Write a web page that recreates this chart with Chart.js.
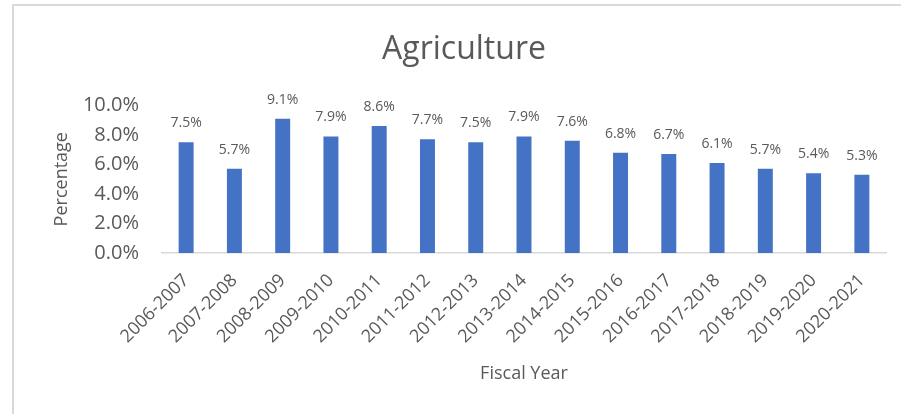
<!DOCTYPE html>
<html>
<head>
<meta charset="utf-8">
<script src="https://cdn.jsdelivr.net/npm/chart.js@4.4.1/dist/chart.umd.min.js"></script>
<style>
    html, body { margin: 0; padding: 0; background: #ffffff; }
    #wrap { position: relative; width: 901px; height: 414px; overflow: hidden; }
    #frame {
        position: absolute; left: 12px; top: 4px; width: 920px; height: 430px;
        border-left: 2px solid #d9d9d9; border-top: 2px solid #d9d9d9;
    }
    #agriChart { position: absolute; left: 0; top: 0; }
</style>
</head>
<body>
<div id="wrap">
    <div id="frame"></div>
    <canvas id="agriChart" width="901" height="414"></canvas>
</div>
<script>
var fiscalYears = [
    "2006-2007", "2007-2008", "2008-2009", "2009-2010", "2010-2011",
    "2011-2012", "2012-2013", "2013-2014", "2014-2015", "2015-2016",
    "2016-2017", "2017-2018", "2018-2019", "2019-2020", "2020-2021"
];
var agriShare = [7.5, 5.7, 9.1, 7.9, 8.6, 7.7, 7.5, 7.9, 7.6, 6.8, 6.7, 6.1, 5.7, 5.4, 5.3];
var yTicks = [0, 2, 4, 6, 8, 10];

var textColor = "#595959";
var fontName = "'Open Sans', sans-serif";

// writes the value above each bar
var barValueLabels = {
    id: "barValueLabels",
    afterDatasetsDraw: function (chart) {
        var ctx = chart.ctx;
        var meta = chart.getDatasetMeta(0);
        ctx.save();
        ctx.font = "14px " + fontName;
        ctx.fillStyle = textColor;
        ctx.textAlign = "center";
        ctx.textBaseline = "alphabetic";
        meta.data.forEach(function (bar, i) {
            var v = chart.data.datasets[0].data[i];
            ctx.fillText(v.toFixed(1) + "%", bar.x, bar.y - 15);
        });
        ctx.restore();
    }
};

function drawChart() {
    var ctx = document.getElementById("agriChart").getContext("2d");
    new Chart(ctx, {
        type: "bar",
        data: {
            labels: fiscalYears,
            datasets: [
                {
                    data: agriShare,
                    backgroundColor: "#4472c4",
                    borderWidth: 0,
                    categoryPercentage: 1.0,
                    barPercentage: 0.31,
                },
            ],
        },
        options: {
            responsive: false,
            animation: false,
            layout: {
                padding: { left: 42, right: 15, top: 0, bottom: 0 },
            },
            plugins: {
                legend: { display: false },
                tooltip: { enabled: false },
                title: {
                    display: true,
                    text: "Agriculture",
                    color: textColor,
                    font: { family: fontName, size: 32, weight: "normal" },
                    padding: { top: 31, bottom: 36 },
                },
            },
            scales: {
                x: {
                    grid: { display: false },
                    border: { display: true, color: "#d9d9d9", width: 1.5 },
                    ticks: {
                        color: textColor,
                        font: { family: fontName, size: 18 },
                        maxRotation: 45,
                        minRotation: 45,
                        padding: 9,
                    },
                    title: {
                        display: true,
                        text: "Fiscal Year",
                        color: textColor,
                        font: { family: fontName, size: 18 },
                        padding: { top: 0, bottom: 29 },
                    },
                    afterFit: function (scale) {
                        scale.height = 161;
                    },
                },
                y: {
                    min: 0,
                    max: 10,
                    grid: { display: false, drawTicks: false },
                    border: { display: false },
                    afterBuildTicks: function (scale) {
                        scale.ticks = yTicks.map(function (v) { return { value: v }; });
                    },
                    ticks: {
                        color: textColor,
                        font: { family: fontName, size: 20 },
                        padding: 23,
                        callback: function (value) {
                            return value.toFixed(1) + "%";
                        },
                    },
                    title: {
                        display: true,
                        text: "Percentage",
                        color: textColor,
                        font: { family: fontName, size: 18 },
                        padding: { top: 9, bottom: 0 },
                    },
                    afterFit: function (scale) {
                        scale.width = 120;
                    },
                },
            },
        },
        plugins: [barValueLabels],
    });
}

window.onload = function () {
    drawChart();
};
</script>
</body>
</html>
